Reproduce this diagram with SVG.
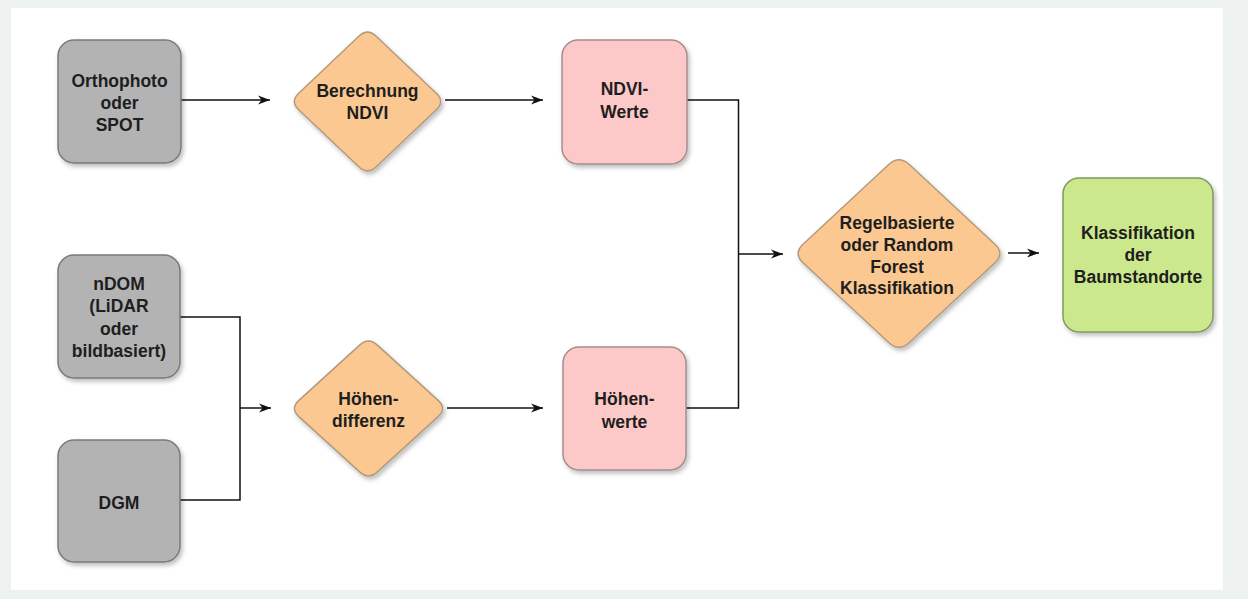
<svg xmlns="http://www.w3.org/2000/svg" width="1248" height="599" viewBox="0 0 1248 599">
<defs>
<filter id="sh" x="-20%" y="-20%" width="150%" height="150%">
<feDropShadow dx="2" dy="3" stdDeviation="2" flood-color="#000" flood-opacity="0.25"/>
</filter>
<marker id="ar" markerUnits="userSpaceOnUse" markerWidth="13" markerHeight="10" refX="12" refY="5" orient="auto">
<path d="M0,0.5 L12,5 L0,9.5 L3.5,5 Z" fill="#111"/>
</marker>
<style>
.gray{fill:#b3b3b3;stroke:#7a7a7a;stroke-width:1.5;filter:url(#sh)}
.orange{fill:#fcc891;stroke:#b39a7c;stroke-width:1.5;filter:url(#sh)}
.pink{fill:#fdc8c8;stroke:#a58c8c;stroke-width:1.5;filter:url(#sh)}
.green{fill:#cce88c;stroke:#7f9a5f;stroke-width:1.5;filter:url(#sh)}
text{font-family:"Liberation Sans",Arial,sans-serif;font-weight:bold;font-size:17.5px;fill:#1e1e1e;text-anchor:middle}
.c{fill:none;stroke:#111;stroke-width:1.5}
</style>
</defs>
<rect x="0" y="0" width="1248" height="599" fill="#edf1ef"/>
<rect x="11" y="8" width="1212" height="582" fill="#ffffff"/>

<g id="connectors">
<line class="c" x1="181" y1="100" x2="270" y2="100" marker-end="url(#ar)"/>
<line class="c" x1="445" y1="100" x2="543" y2="100" marker-end="url(#ar)"/>
<polyline class="c" points="687,100 738.5,100 738.5,408 686,408"/>
<line class="c" x1="738.5" y1="254" x2="783" y2="254" marker-end="url(#ar)"/>
<polyline class="c" points="180,317 240,317 240,500 180,500"/>
<line class="c" x1="240" y1="408" x2="271" y2="408" marker-end="url(#ar)"/>
<line class="c" x1="447" y1="408" x2="543" y2="408" marker-end="url(#ar)"/>
<line class="c" x1="1008" y1="253" x2="1039" y2="253" marker-end="url(#ar)"/>
</g>

<g id="orthophoto">
<rect class="gray" x="58" y="40" width="123" height="123" rx="16"/>
<text x="119.5" y="86.5">Orthophoto</text>
<text x="119.5" y="108.5">oder</text>
<text x="119.5" y="130.5">SPOT</text>
</g>

<g id="berechnung-ndvi">
<path class="orange" d="M358.8,36.2 Q367.5,28 376.2,36.2 L436.3,93.3 Q445,101.5 436.3,109.7 L376.2,166.8 Q367.5,175 358.8,166.8 L298.7,109.7 Q290,101.5 298.7,93.3 Z"/>
<text x="367.5" y="96.5">Berechnung</text>
<text x="367.5" y="118.5">NDVI</text>
</g>

<g id="ndvi-werte">
<rect class="pink" x="562" y="40" width="125" height="124" rx="16"/>
<text x="624.5" y="94.5">NDVI-</text>
<text x="624.5" y="117.5">Werte</text>
</g>

<g id="ndom">
<rect class="gray" x="58" y="255" width="122" height="123" rx="16"/>
<text x="119" y="289.5">nDOM</text>
<text x="119" y="312">(LiDAR</text>
<text x="119" y="334.5">oder</text>
<text x="119" y="357">bildbasiert)</text>
</g>

<g id="dgm">
<rect class="gray" x="58" y="440" width="122" height="122" rx="16"/>
<text x="119" y="508.5">DGM</text>
</g>

<g id="hoehendifferenz">
<path class="orange" d="M359.6,345.1 Q368.5,337 377.4,345.1 L438.1,400.4 Q447,408.5 438.1,416.6 L377.4,471.9 Q368.5,480 359.6,471.9 L298.9,416.6 Q290,408.5 298.9,400.4 Z"/>
<text x="368.5" y="404.5">Höhen-</text>
<text x="368.5" y="426.5">differenz</text>
</g>

<g id="hoehenwerte">
<rect class="pink" x="563" y="347" width="123" height="123" rx="16"/>
<text x="624.5" y="404.5">Höhen-</text>
<text x="624.5" y="427.5">werte</text>
</g>

<g id="regelbasierte">
<path class="orange" d="M888.7,164.5 Q899,155 909.3,164.5 L994.7,244 Q1005,253.5 994.7,263 L909.3,342.5 Q899,352 888.7,342.5 L803.3,263 Q793,253.5 803.3,244 Z"/>
<text x="897" y="229">Regelbasierte</text>
<text x="897" y="251">oder Random</text>
<text x="897" y="273">Forest</text>
<text x="897" y="294">Klassifikation</text>
</g>

<g id="klassifikation">
<rect class="green" x="1063" y="178" width="150" height="154" rx="16"/>
<text x="1138" y="239">Klassifikation</text>
<text x="1138" y="261">der</text>
<text x="1138" y="283">Baumstandorte</text>
</g>
</svg>
